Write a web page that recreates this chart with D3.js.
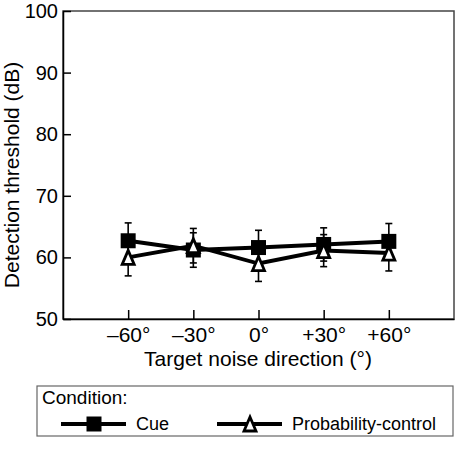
<!DOCTYPE html>
<html>
<head>
<meta charset="utf-8">
<title>Detection threshold</title>
<style>
body { margin: 0; background: #fff; }
svg { font-family: "Liberation Sans", Arial, sans-serif; }
</style>
</head>
<body>
<svg id="chart" width="461" height="459"></svg>
<script src="https://d3js.org/d3.v7.min.js"></script>
<script>
// data
var directions = [-60, -30, 0, 30, 60];
var tickLabels = ["\u201360\u00b0", "\u201330\u00b0", "0\u00b0", "+30\u00b0", "+60\u00b0"];
var cueMean = [62.7, 61.2, 61.6, 62.1, 62.6];
var cueErr = [2.9, 2.8, 2.8, 2.7, 2.9];
var probMean = [60.0, 61.9, 59.0, 61.1, 60.7];
var probErr = [3.0, 2.8, 2.9, 2.6, 2.9];
var yTicks = [50, 60, 70, 80, 90, 100];

var svg = d3.select("#chart");

var x = d3.scaleLinear().domain([-90, 90]).range([63, 454]);
var y = d3.scaleLinear().domain([50, 100]).range([319, 11]);

// frame
svg.append("rect")
    .attr("x", x(-90)).attr("y", y(100))
    .attr("width", x(90) - x(-90)).attr("height", y(50) - y(100))
    .attr("fill", "none").attr("stroke", "#444").attr("stroke-width", 1.5);

// y axis, ticks pointing in
var yAxis = svg.append("g")
    .attr("transform", "translate(" + x(-90) + ",0)")
    .call(d3.axisLeft(y).tickValues(yTicks).tickSize(-8).tickSizeOuter(0).tickPadding(5));
yAxis.select(".domain").attr("stroke", "#000").attr("stroke-width", 1.5);
yAxis.selectAll(".tick line").attr("stroke-width", 1.5);
yAxis.selectAll(".tick text").attr("font-size", 20).attr("fill", "#000");

// x axis
var xAxis = svg.append("g")
    .attr("transform", "translate(0," + y(50) + ")")
    .call(d3.axisBottom(x).tickValues(directions).tickSize(-9).tickSizeOuter(0).tickPadding(8)
        .tickFormat(function(d, i) { return tickLabels[i]; }));
xAxis.select(".domain").attr("stroke", "#000").attr("stroke-width", 1.5);
xAxis.selectAll(".tick line").attr("stroke-width", 1.5);
xAxis.selectAll(".tick text").attr("font-size", 21).attr("fill", "#000");

// axis titles
svg.append("text")
    .attr("transform", "translate(19,175)rotate(-90)")
    .attr("text-anchor", "middle")
    .attr("font-size", 21)
    .text("Detection threshold (dB)");

svg.append("text")
    .attr("x", 258)
    .attr("y", 366)
    .attr("text-anchor", "middle")
    .attr("font-size", 21)
    .text("Target noise direction (\u00b0)");

var series = [
  {name: "Cue", mean: cueMean, err: cueErr, shape: "square"},
  {name: "Probability-control", mean: probMean, err: probErr, shape: "triangle"}
];

var line = d3.line()
    .x(function(d) { return x(d[0]); })
    .y(function(d) { return y(d[1]); });

var square = d3.symbol().type(d3.symbolSquare).size(225);
var triPath = "M0,-7L6,7L-6,7Z";

function drawMarker(g, shape) {
  if (shape === "square") {
    g.append("path").attr("d", square()).attr("fill", "#000");
  } else {
    g.append("path").attr("d", triPath).attr("fill", "#fff")
        .attr("stroke", "#000").attr("stroke-width", 2.8)
        .attr("stroke-linejoin", "miter");
  }
}

series.forEach(function(s) {
  var pts = directions.map(function(d, i) { return [d, s.mean[i], s.err[i]]; });

  // error bars
  var eb = svg.append("g").attr("stroke", "#000").attr("stroke-width", 1.6);
  pts.forEach(function(p) {
    eb.append("line").attr("x1", x(p[0])).attr("x2", x(p[0]))
        .attr("y1", y(p[1] - p[2])).attr("y2", y(p[1] + p[2]));
    [p[1] - p[2], p[1] + p[2]].forEach(function(v) {
      eb.append("line").attr("x1", x(p[0]) - 3.5).attr("x2", x(p[0]) + 3.5)
          .attr("y1", y(v)).attr("y2", y(v));
    });
  });

  svg.append("path")
      .datum(pts)
      .attr("d", line)
      .attr("fill", "none")
      .attr("stroke", "#000")
      .attr("stroke-width", 4);

  pts.forEach(function(p) {
    var g = svg.append("g")
        .attr("transform", "translate(" + x(p[0]) + "," + y(p[1]) + ")");
    drawMarker(g, s.shape);
  });
});

// legend
var legend = svg.append("g");
legend.append("rect")
    .attr("x", 37).attr("y", 386).attr("width", 416).attr("height", 50)
    .attr("fill", "#fff").attr("stroke", "#666").attr("stroke-width", 1.2);
legend.append("text")
    .attr("x", 42).attr("y", 404)
    .attr("font-size", 19)
    .text("Condition:");

var legendX = [61, 217];
series.forEach(function(s, i) {
  var lx = legendX[i];
  legend.append("line")
      .attr("x1", lx).attr("x2", lx + 65)
      .attr("y1", 424).attr("y2", 424)
      .attr("stroke", "#000").attr("stroke-width", 4);
  var g = legend.append("g").attr("transform", "translate(" + (lx + 33) + ",424)");
  drawMarker(g, s.shape);
  legend.append("text")
      .attr("x", lx + 75).attr("y", 430)
      .attr("font-size", 18)
      .text(s.name);
});
</script>
</body>
</html>
